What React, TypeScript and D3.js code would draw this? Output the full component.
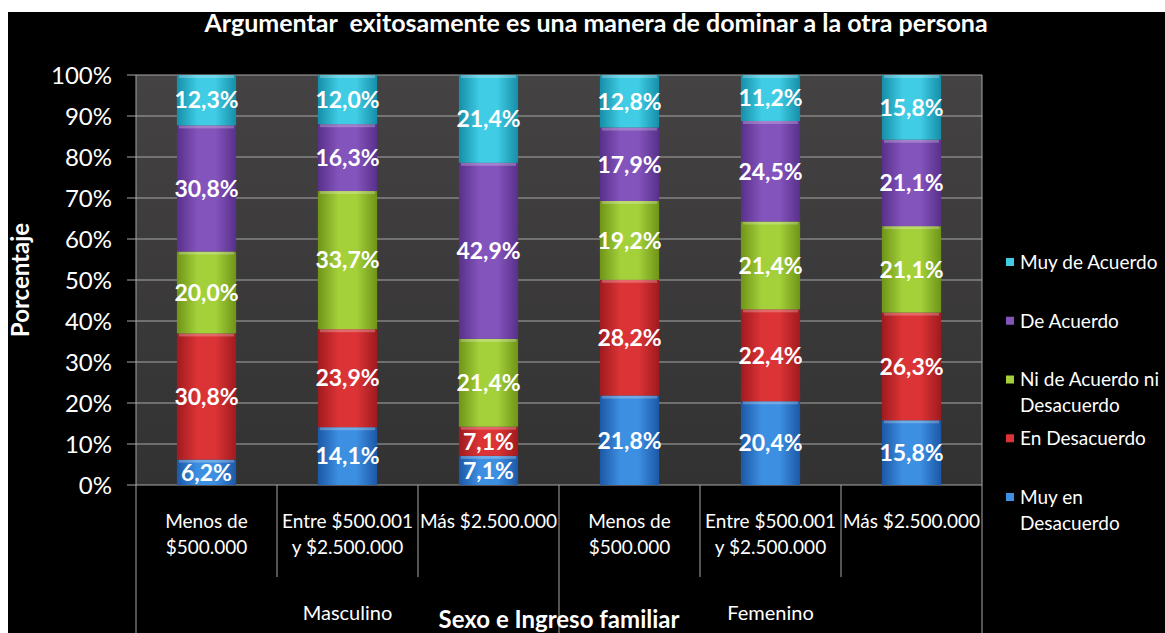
import * as d3 from "d3";

const categories = [
  ["Menos de", "$500.000"],
  ["Entre $500.001", "y $2.500.000"],
  ["Más $2.500.000"],
  ["Menos de", "$500.000"],
  ["Entre $500.001", "y $2.500.000"],
  ["Más $2.500.000"],
];
const groups = ["Masculino", "Femenino"];

const seriesNames = [
  "Muy en Desacuerdo",
  "En Desacuerdo",
  "Ni de Acuerdo ni Desacuerdo",
  "De Acuerdo",
  "Muy de Acuerdo",
];
const legendLines = [
  ["Muy en", "Desacuerdo"],
  ["En Desacuerdo"],
  ["Ni de Acuerdo ni", "Desacuerdo"],
  ["De Acuerdo"],
  ["Muy de Acuerdo"],
];

const muyEnDesacuerdo = [6.2, 14.1, 7.1, 21.8, 20.4, 15.8];
const enDesacuerdo = [30.8, 23.9, 7.1, 28.2, 22.4, 26.3];
const niNi = [20.0, 33.7, 21.4, 19.2, 21.4, 21.1];
const deAcuerdo = [30.8, 16.3, 42.9, 17.9, 24.5, 21.1];
const muyDeAcuerdo = [12.3, 12.0, 21.4, 12.8, 11.2, 15.8];

const yTicks = [0, 0.1, 0.2, 0.3, 0.4, 0.5, 0.6, 0.7, 0.8, 0.9, 1];

const colors = [
  { edge: "#1c58a6", mid: "#3d8fe2" },
  { edge: "#a01a1e", mid: "#dc3436" },
  { edge: "#6f9418", mid: "#a4d13a" },
  { edge: "#58308a", mid: "#8454bd" },
  { edge: "#168ea8", mid: "#3fcce4" },
];

const FONT = "Lato, Calibri, 'Open Sans', sans-serif";

export default function App() {
  const width = 1165;
  const height = 633;
  const left = 136;
  const right = 982;
  const top = 75;
  const bottom = 485;

  const allValues = [muyEnDesacuerdo, enDesacuerdo, niNi, deAcuerdo, muyDeAcuerdo];
  const rows = categories.map((c, i) => {
    const r: Record<string, number> = { idx: i };
    seriesNames.forEach((s, j) => (r[s] = allValues[j][i]));
    return r;
  });
  const stacked = d3
    .stack<Record<string, number>>()
    .keys(seriesNames)
    .offset(d3.stackOffsetExpand)(rows);

  const x = d3
    .scaleBand<number>()
    .domain(d3.range(categories.length))
    .range([left, right])
    .paddingInner(0.58)
    .paddingOuter(0.29);
  const band = (right - left) / categories.length;
  const y = d3.scaleLinear().domain([0, 1]).range([bottom, top]);

  const legendY = d3.scaleLinear().domain([0, 4]).range([262, 497]);
  const fmt = (v: number) => v.toFixed(1).replace(".", ",") + "%";

  return (
    <svg
      width={width}
      height={height}
      style={{ position: "fixed", left: 0, top: 0 }}
      fontFamily={FONT}
    >
      <defs>
        {colors.map((c, i) => (
          <linearGradient key={i} id={`g${i}`} x1="0" x2="1" y1="0" y2="0">
            <stop offset="0" stopColor={c.edge} />
            <stop offset="0.35" stopColor={c.mid} />
            <stop offset="0.65" stopColor={c.mid} />
            <stop offset="1" stopColor={c.edge} />
          </linearGradient>
        ))}
        <linearGradient id="plotbg" x1="0" x2="0" y1="0" y2="1">
          <stop offset="0" stopColor="#444242" />
          <stop offset="1" stopColor="#333232" />
        </linearGradient>
      </defs>
      <rect width={width} height={height} fill="#fff" />
      <rect x={8} y={12} width={width - 8} height={height - 12} fill="#000" />

      <text
        x={596}
        y={32}
        textAnchor="middle"
        fill="#fff"
        fontSize={25}
        fontWeight="bold"
        style={{ whiteSpace: "pre" }}
      >
        Argumentar  exitosamente es una manera de dominar a la otra persona
      </text>

      {/* plot area */}
      <rect x={left} y={top} width={right - left} height={bottom - top} fill="url(#plotbg)" />
      {yTicks.map((t) => (
        <g key={t}>
          <line x1={127} x2={right} y1={y(t)} y2={y(t)} stroke="#a8a8a8" />
          <text
            x={112}
            y={y(t)}
            dy="0.36em"
            textAnchor="end"
            fill="#fff"
            fontSize={24}
          >
            {Math.round(t * 100)}%
          </text>
        </g>
      ))}

      {/* bars */}
      {stacked.map((s, si) =>
        s.map((d, i) => (
          <g key={`${si}-${i}`}>
            <rect
              x={x(i)}
              y={y(d[1])}
              width={x.bandwidth()}
              height={y(d[0]) - y(d[1])}
              fill={`url(#g${si})`}
            />
            <rect
              x={x(i)! + 2}
              y={y(d[1])}
              width={x.bandwidth() - 4}
              height={3}
              fill="#fff"
              opacity={0.25}
            />
          </g>
        ))
      )}
      {stacked.map((s, si) =>
        s.map((d, i) => (
          <text
            key={`l${si}-${i}`}
            x={x(i)! + x.bandwidth() / 2}
            y={(y(d[0]) + y(d[1])) / 2}
            dy="0.36em"
            textAnchor="middle"
            fill="#fff"
            fontSize={23}
            fontWeight="bold"
          >
            {fmt(allValues[si][i])}
          </text>
        ))
      )}

      {/* axis lines and category dividers */}
      <line x1={left} x2={left} y1={top} y2={height} stroke="#a8a8a8" />
      <line x1={right} x2={right} y1={top} y2={height} stroke="#a8a8a8" />
      {d3.range(1, categories.length).map((i) => (
        <line
          key={i}
          x1={left + band * i}
          x2={left + band * i}
          y1={bottom}
          y2={i === 3 ? height : 577}
          stroke="#a8a8a8"
        />
      ))}

      {categories.map((lines, i) => (
        <text
          key={i}
          x={x(i)! + x.bandwidth() / 2}
          y={528}
          textAnchor="middle"
          fill="#fff"
          fontSize={19}
        >
          {lines.map((l, k) => (
            <tspan key={k} x={x(i)! + x.bandwidth() / 2} dy={k === 0 ? 0 : 26}>
              {l}
            </tspan>
          ))}
        </text>
      ))}
      {groups.map((g, gi) => (
        <text
          key={g}
          x={x(gi * 3 + 1)! + x.bandwidth() / 2}
          y={620}
          textAnchor="middle"
          fill="#fff"
          fontSize={20}
        >
          {g}
        </text>
      ))}
      <text x={559} y={628} textAnchor="middle" fill="#fff" fontSize={24} fontWeight="bold">
        Sexo e Ingreso familiar
      </text>
      <text
        transform={`translate(29, 280) rotate(-90)`}
        textAnchor="middle"
        fill="#fff"
        fontSize={24}
        fontWeight="bold"
      >
        Porcentaje
      </text>

      {/* legend */}
      {seriesNames
        .map((n, i) => i)
        .reverse()
        .map((si, k) => (
          <g key={si} transform={`translate(1006, ${legendY(k)})`}>
            <rect x={0} y={-4} width={8} height={8} fill={colors[si].mid} />
            <text x={14} y={0} fill="#fff" fontSize={19}>
              {legendLines[si].map((l, j) => (
                <tspan key={j} x={14} dy={j === 0 ? "0.36em" : 26}>
                  {l}
                </tspan>
              ))}
            </text>
          </g>
        ))}
    </svg>
  );
}
